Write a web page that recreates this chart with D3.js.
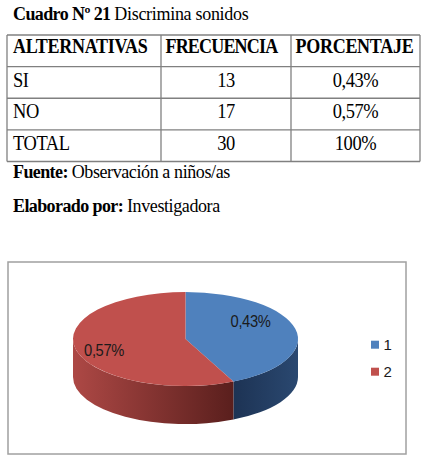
<!DOCTYPE html>
<html lang="es">
<head>
<meta charset="UTF-8">
<title>Cuadro Nº 21 Discrimina sonidos</title>
<script src="https://d3js.org/d3.v7.min.js"></script>
<style>
  body { margin: 0; padding: 0; background: #fff; }
  svg { display: block; }
  .serif { font-family: "Liberation Serif", "Times New Roman", serif; font-size: 18px; fill: #000; }
  .pie-label { font-family: "Liberation Sans", Arial, sans-serif; font-size: 16px; fill: #1a1a1a; }
  .legend text { font-family: "Liberation Sans", Arial, sans-serif; font-size: 15px; fill: #1a1a1a; }
</style>
</head>
<body>
<svg id="chart" width="424" height="464"></svg>
<script>
// ---- data ----
const titleBold = "Cuadro Nº 21";
const titleRest = "Discrimina sonidos";
const headers = ["ALTERNATIVAS", "FRECUENCIA", "PORCENTAJE"];
const alternativas = ["SI", "NO", "TOTAL"];
const frecuencias = [13, 17, 30];
const porcentajes = ["0,43%", "0,57%", "100%"];
const fuente = ["Fuente:", "Observación a niños/as"];
const elaborado = ["Elaborado por:", "Investigadora"];
const pieValues = [0.43, 0.57];
const pieLabels = ["0,43%", "0,57%"];
const legendLabels = ["1", "2"];

const svg = d3.select("#chart");

// title
const title = svg.append("text").attr("class", "serif").attr("x", 13).attr("y", 20);
title.append("tspan").attr("font-weight", "bold").attr("letter-spacing", "-0.6").text(titleBold + " ");
title.append("tspan").attr("letter-spacing", "-0.3").text(titleRest);

// ---- table ----
const colEdges = [7, 161, 291, 420];
const rowKeys = ["header"].concat(alternativas);
const y = d3.scaleBand().domain(rowKeys).range([35, 161.5]);

const table = svg.append("g");
// horizontal lines
table.selectAll("line.h")
  .data(rowKeys.map(k => y(k)).concat([y.range()[1]]))
  .join("line")
  .attr("class", "h")
  .attr("x1", colEdges[0]).attr("x2", colEdges[3])
  .attr("y1", d => d).attr("y2", d => d)
  .attr("stroke", "#808080").attr("stroke-width", 1.3);
// vertical lines
table.selectAll("line.v")
  .data(colEdges)
  .join("line")
  .attr("class", "v")
  .attr("x1", d => d).attr("x2", d => d)
  .attr("y1", y.range()[0]).attr("y2", y.range()[1])
  .attr("stroke", "#808080").attr("stroke-width", 1.3);

// header texts (tall, horizontally condensed glyphs)
table.selectAll("text.hdr")
  .data(headers)
  .join("text")
  .attr("class", "serif hdr")
  .attr("font-weight", "bold")
  .style("font-size", "20px")
  .attr("letter-spacing", (d, i) => i === 1 ? -0.9 : -0.3)
  .attr("transform", (d, i) => `translate(${colEdges[i] + (i === 0 ? 6 : 4.5)},${y("header") + 17.5}) scale(0.9,1)`)
  .text(d => d);

// body rows
const rows = alternativas.map((a, i) => ({ key: a, cells: [a, String(frecuencias[i]), porcentajes[i]] }));
const rowG = table.selectAll("g.row")
  .data(rows)
  .join("g")
  .attr("class", "row")
  .attr("transform", d => `translate(0,${y(d.key) + 20})`);
rowG.selectAll("text")
  .data(d => d.cells)
  .join("text")
  .attr("class", "serif")
  .style("font-size", "22px")
  .attr("letter-spacing", -0.5)
  .attr("text-anchor", (d, i) => i === 0 ? "start" : "middle")
  .attr("transform", (d, i) => `translate(${i === 0 ? colEdges[0] + 6 : (colEdges[i] + colEdges[i + 1]) / 2},0) scale(0.84,1)`)
  .text(d => d);

// fuente / elaborado
[[fuente, 178], [elaborado, 212]].forEach(([parts, yy]) => {
  const t = svg.append("text").attr("class", "serif").attr("x", 13).attr("y", yy);
  t.append("tspan").attr("font-weight", "bold").attr("letter-spacing", "-0.6").text(parts[0] + " ");
  t.append("tspan").attr("letter-spacing", "-0.4").text(parts[1]);
});

// ---- 3D pie chart ----
svg.append("rect")
  .attr("x", 8).attr("y", 262).attr("width", 398).attr("height", 192)
  .attr("fill", "#fff").attr("stroke", "#a0a0a0").attr("stroke-width", 1.5);

const cx = 185.5, cy = 339, rx = 112.5, ry = 47, depth = 38;
const topColors = ["#4f81bd", "#c0504d"];
const sideStops = [["#1d3354", "#2a4870"], ["#ad4845", "#5a1f1d"]];

const defs = svg.append("defs");
sideStops.forEach((s, i) => {
  const g = defs.append("linearGradient").attr("id", "side" + i)
    .attr("x1", "0%").attr("x2", "100%").attr("y1", "0%").attr("y2", "0%");
  g.append("stop").attr("offset", "0%").attr("stop-color", s[0]);
  g.append("stop").attr("offset", "100%").attr("stop-color", s[1]);
});

const pie = d3.pie().sort(null).value(d => d);
const arcs = pie(pieValues);
const pt = (a, dy = 0) => [cx + rx * Math.sin(a), cy - ry * Math.cos(a) + dy];

function sidePath(d) {
  const a0 = Math.max(d.startAngle, Math.PI / 2);
  const a1 = Math.min(d.endAngle, 3 * Math.PI / 2);
  if (a0 >= a1) return null;
  const p0 = pt(a0), p1 = pt(a1), q1 = pt(a1, depth), q0 = pt(a0, depth);
  return `M${p0}A${rx},${ry} 0 0 1 ${p1}L${q1}A${rx},${ry} 0 0 0 ${q0}Z`;
}
function topPath(d) {
  const p0 = pt(d.startAngle), p1 = pt(d.endAngle);
  const large = d.endAngle - d.startAngle > Math.PI ? 1 : 0;
  return `M${cx},${cy}L${p0}A${rx},${ry} 0 ${large} 1 ${p1}Z`;
}

const pieG = svg.append("g");
pieG.selectAll("path.side")
  .data(arcs.filter(d => sidePath(d)))
  .join("path")
  .attr("class", "side")
  .attr("d", sidePath)
  .attr("fill", d => `url(#side${d.index})`);
pieG.selectAll("path.top")
  .data(arcs)
  .join("path")
  .attr("class", "top")
  .attr("d", topPath)
  .attr("fill", d => topColors[d.index]);

// labels
const labelPos = [[250.5, 327], [104, 356]];
pieG.selectAll("text")
  .data(arcs)
  .join("text")
  .attr("class", "pie-label")
  .attr("text-anchor", "middle")
  .attr("letter-spacing", -0.4)
  .attr("transform", d => `translate(${labelPos[d.index]}) scale(0.92,1)`)
  .text(d => pieLabels[d.index]);

// legend
const ly = d3.scalePoint().domain(legendLabels).range([344.7, 371.7]);
const legend = svg.append("g").attr("class", "legend");
const li = legend.selectAll("g").data(legendLabels).join("g")
  .attr("transform", d => `translate(371,${ly(d)})`);
li.append("rect").attr("x", 0).attr("y", -4).attr("width", 8).attr("height", 8)
  .attr("fill", (d, i) => topColors[i]);
li.append("text").attr("x", 12.5).attr("y", 5.5).text(d => d);
</script>
</body>
</html>
